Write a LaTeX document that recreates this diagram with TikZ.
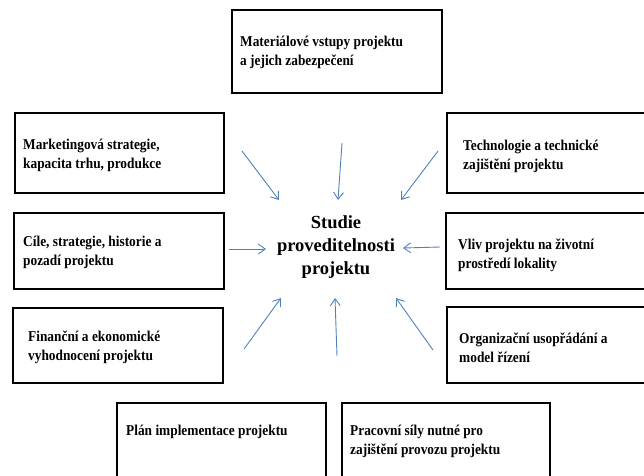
\documentclass[tikz,border=0pt]{standalone}
\usepackage{fontspec}
\setmainfont{Liberation Serif}
\newfontfamily\boxfont{Liberation Serif}[FakeStretch=0.89]
\usetikzlibrary{arrows.meta}

\definecolor{arrblue}{RGB}{79,129,189}

\begin{document}
\begin{tikzpicture}[
  x=1pt, y=-1pt,
  box/.style={draw=black, line width=1.1pt},
  lbl/.style={anchor=west, align=left, inner sep=0pt, font=\boxfont\bfseries\fontsize{15}{19}\selectfont},
  ctr/.style={align=center, inner sep=0pt, font=\bfseries\fontsize{18.5}{23}\selectfont},
  arr/.style={draw=arrblue, line width=0.9pt, -{Straight Barb[length=7pt,width=10pt]}},
]
\useasboundingbox (0,0) rectangle (644,475);

\node [ctr] (studie) at (336,247) {Studie\\proveditelnosti\\projektu};

\draw [box] (232,10) rectangle (442,93);
\node [lbl] (mat) at (240,52.5) {Materiálové vstupy projektu\\a jejich zabezpečení};

\draw [box] (15,113) rectangle (224,193);
\node [lbl] (mkt) at (23,155) {Marketingová strategie,\\kapacita trhu, produkce};

\draw [box] (447,113) rectangle (660,193);
\node [lbl] (tech) at (463,156) {Technologie a technické\\zajištění projektu};

\draw [box] (14,213) rectangle (224,289);
\node [lbl] (cile) at (23,252) {Cíle, strategie, historie a\\pozadí projektu};

\draw [box] (446,213) rectangle (660,289);
\node [lbl] (vliv) at (458,255) {Vliv projektu na životní\\prostředí lokality};

\draw [box] (13,308) rectangle (223,383);
\node [lbl] (fin) at (28,347.5) {Finanční a ekonomické\\vyhodnocení projektu};

\draw [box] (447,307) rectangle (660,383);
\node [lbl] (org) at (459,347.5) {Organizační usopřádání a\\model řízení};

\draw [box] (117,403) rectangle (326,490);
\node [lbl] (plan) at (126,432) {Plán implementace projektu};

\draw [box] (342,403) rectangle (550,490);
\node [lbl] (prac) at (350,441) {Pracovní síly nutné pro\\zajištění provozu projektu};

% arrows towards the study
\coordinate (a1) at (242,151);  \coordinate (b1) at (279,200);
\coordinate (a2) at (342,143);  \coordinate (b2) at (338,200);
\coordinate (a3) at (438,151);  \coordinate (b3) at (401,200);
\coordinate (a4) at (229,249);  \coordinate (b4) at (266,249);
\coordinate (a5) at (440,247);  \coordinate (b5) at (403,248);
\coordinate (a6) at (244,349);  \coordinate (b6) at (281,298);
\coordinate (a7) at (337,356);  \coordinate (b7) at (335,298);
\coordinate (a8) at (433,350);  \coordinate (b8) at (396,298);

\draw [arr] (a1) -- (b1);
\draw [arr] (a2) -- (b2);
\draw [arr] (a3) -- (b3);
\draw [arr] (a4) -- (b4);
\draw [arr] (a5) -- (b5);
\draw [arr] (a6) -- (b6);
\draw [arr] (a7) -- (b7);
\draw [arr] (a8) -- (b8);

\end{tikzpicture}
\end{document}
